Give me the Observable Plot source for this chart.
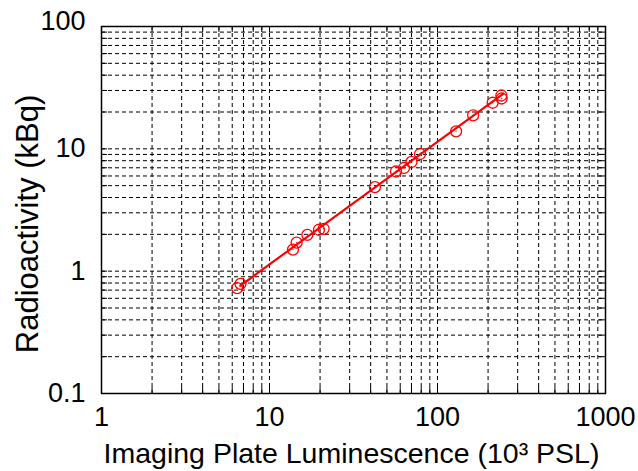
<!DOCTYPE html>
<html>
<head>
<meta charset="utf-8">
<script src="https://cdn.jsdelivr.net/npm/d3@7"></script>
<script src="https://cdn.jsdelivr.net/npm/@observablehq/plot@0.6"></script>
<style>
  html, body { margin: 0; padding: 0; background: white; }
</style>
</head>
<body>
<div id="chart"></div>
<script>
// Data
const psl = [6.42, 6.72, 13.8, 14.5, 16.8, 19.7, 21.0, 42.4, 56.6, 63.2, 70.0, 78.7, 129, 163, 213, 240, 241];
const kbq = [0.726, 0.788, 1.50, 1.71, 1.98, 2.18, 2.22, 4.86, 6.53, 6.97, 7.81, 9.07, 13.9, 18.8, 23.8, 27.3, 25.8];
const fitPSL = [6.7, 247];
const fitKBq = [0.76, 28.3];
const xTicks = [1, 10, 100, 1000];
const yTicks = [0.1, 1, 10, 100];
const xTitle = "Imaging Plate Luminescence (10\u00B3 PSL)";
const yTitle = "Radioactivity (kBq)";

const points = psl.map((x, i) => ({x, y: kbq[i]}));
const fit = fitPSL.map((x, i) => ({x, y: fitKBq[i]}));
const minorX = d3.scaleLog().domain([xTicks[0], xTicks[xTicks.length - 1]]).ticks();
const minorY = d3.scaleLog().domain([yTicks[0], yTicks[yTicks.length - 1]]).ticks();

const W = 638, H = 471, mL = 101, mR = 33, mT = 26, mB = 78;
const fw = W - mL - mR, fh = H - mT - mB;
const font = "'Liberation Sans', Arial, sans-serif";
const grid = {stroke: "black", strokeOpacity: 1, strokeWidth: 1, strokeDasharray: "4,3"};
const yAxisOpts = {tickSize: 0, tickPadding: 16, fontSize: 27, tickFormat: d => String(d), label: null};

const chart = Plot.plot({
  width: W, height: H,
  marginLeft: mL, marginRight: mR, marginTop: mT, marginBottom: mB,
  style: {fontFamily: font, fontSize: "27px", background: "white", color: "black"},
  x: {type: "log", domain: [1, 1000]},
  y: {type: "log", domain: [0.1, 100]},
  marks: [
    Plot.gridX(minorX, grid),
    Plot.gridY(minorY, grid),
    Plot.ruleX(minorX, {x: d => d, stroke: "black", insetTop: fh - 6}),
    Plot.ruleX(minorX, {x: d => d, stroke: "black", insetBottom: fh - 6}),
    Plot.ruleY(minorY, {y: d => d, stroke: "black", insetRight: fw - 6}),
    Plot.ruleY(minorY, {y: d => d, stroke: "black", insetLeft: fw - 6}),
    Plot.frame({stroke: "black", strokeWidth: 1.5}),
    Plot.axisX(xTicks, {tickSize: 0, tickPadding: 13, fontSize: 27, tickFormat: d => String(d), label: null}),
    Plot.axisY(yTicks.slice(0, -1), yAxisOpts),
    Plot.axisY(yTicks.slice(-1), {...yAxisOpts, dy: -5}),
    Plot.line(fit, {x: "x", y: "y", stroke: "red", strokeWidth: 2.2}),
    Plot.dot(points, {x: "x", y: "y", r: 5.5, stroke: "red", strokeWidth: 1.3, fill: "none"}),
    Plot.dot(points, {x: "x", y: "y", r: 0.7, fill: "red"}),
    Plot.text([xTitle], {frameAnchor: "bottom", textAnchor: "middle", lineAnchor: "middle", dx: -2, dy: 60, fontSize: 28.5, fill: "black", text: d => d}),
    Plot.text([yTitle], {frameAnchor: "left", textAnchor: "middle", lineAnchor: "middle", dx: -73, dy: 14, rotate: -90, fontSize: 31, fill: "black", text: d => d})
  ]
});
document.getElementById("chart").appendChild(chart);
</script>
</body>
</html>
